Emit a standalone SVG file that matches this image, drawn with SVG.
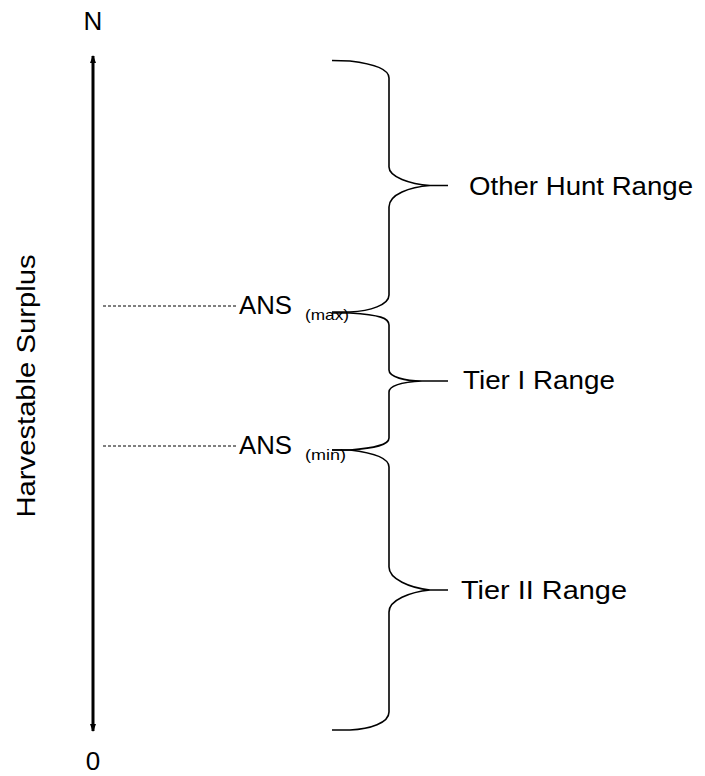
<svg xmlns="http://www.w3.org/2000/svg" width="705" height="776" viewBox="0 0 705 776">
<style>
text{font-family:"Liberation Sans",Arial,sans-serif;fill:#000}
.lbl{font-size:26px}
.sub{font-size:15px}
.brace{fill:none;stroke:#000;stroke-width:1.6}
.dash{stroke:#000;stroke-width:1;stroke-dasharray:3 2}
</style>
<defs>
<marker id="ah" viewBox="0 0 8 6" refX="7" refY="3" markerWidth="8" markerHeight="6" markerUnits="userSpaceOnUse" orient="auto-start-reverse">
<path d="M0,0 L8,3 L0,6 Z" fill="#000"/>
</marker>
</defs>
<g id="axis">
<line x1="93" y1="56" x2="93" y2="731" stroke="#000" stroke-width="3" marker-start="url(#ah)" marker-end="url(#ah)"/>
<text x="93" y="30" text-anchor="middle" class="lbl" font-size="25">N</text>
<text x="93" y="770" text-anchor="middle" class="lbl" font-size="24">0</text>
<text transform="translate(35,386) rotate(-90)" text-anchor="middle" class="lbl" textLength="263" lengthAdjust="spacingAndGlyphs">Harvestable Surplus</text>
</g>
<g id="connectors">
<line class="dash" x1="103" y1="306" x2="238" y2="306"/>
<line class="dash" x1="103" y1="446" x2="238" y2="446"/>
</g>
<g id="ans-max">
<text x="239" y="314" class="lbl" font-size="25" textLength="53" lengthAdjust="spacingAndGlyphs">ANS</text>
<text x="305" y="320" class="sub" textLength="44" lengthAdjust="spacingAndGlyphs">(max)</text>
</g>
<g id="ans-min">
<text x="239" y="454" class="lbl" font-size="25" textLength="53" lengthAdjust="spacingAndGlyphs">ANS</text>
<text x="305" y="460" class="sub" textLength="41" lengthAdjust="spacingAndGlyphs">(min)</text>
</g>
<g id="brace-other">
<path class="brace" d="M332,60.5 L350,61 C375,64 389,70 389,78 L389,167 C389,177 410,184 430,185.5 L448,185.5 M430,185.5 C410,187 389,194 389,207 L389,295 C389,305 370,311 350,312 L332,312"/>
<text x="469" y="195" class="lbl" textLength="224" lengthAdjust="spacingAndGlyphs">Other Hunt Range</text>
</g>
<g id="brace-tier1">
<path class="brace" d="M332,313 L350,313 C380,315 389,318 389,325 L389,370 C389,377 405,381 422,381 L448,381 M422,381 C405,382 389,385 389,392 L389,438 C389,445 375,448 350,450 L332,450"/>
<text x="463" y="389" class="lbl" textLength="152" lengthAdjust="spacingAndGlyphs">Tier I Range</text>
</g>
<g id="brace-tier2">
<path class="brace" d="M332,450 L350,450 C375,453 389,458 389,467 L389,567 C389,579 410,588 430,590 L448,590 M430,590 C410,592 389,600 389,612 L389,712 C389,723 370,729 350,730 L332,730"/>
<text x="461" y="599" class="lbl" textLength="166" lengthAdjust="spacingAndGlyphs">Tier II Range</text>
</g>
</svg>
